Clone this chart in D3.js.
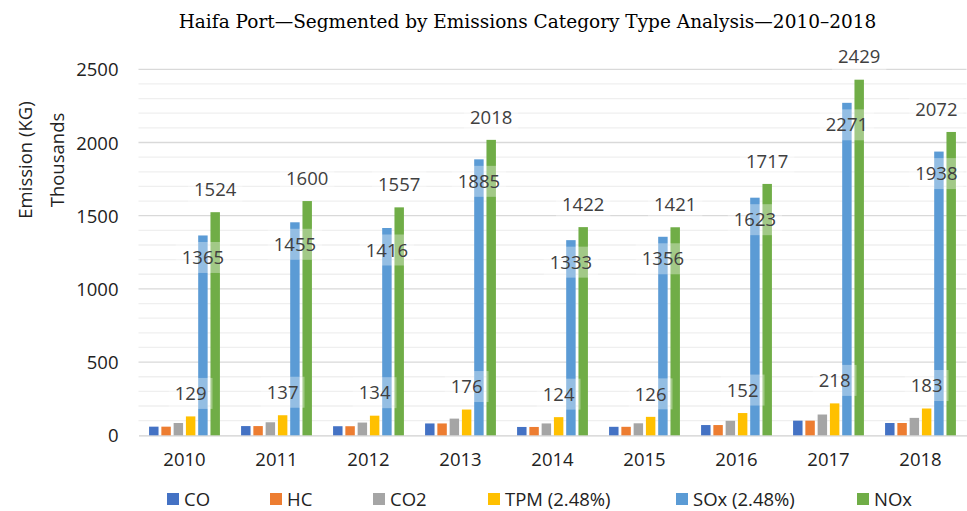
<!DOCTYPE html>
<meta charset="utf-8">
<script src="https://d3js.org/d3.v7.min.js"></script>
<style>
  body { margin: 0; background: #fff; }
  text { font-family: "Open Sans", sans-serif; }
</style>
<div id="chart"></div>
<script>

// data (thousands of kg)
var years = ["2010", "2011", "2012", "2013", "2014", "2015", "2016", "2017", "2018"]
var seriesNames = ["CO", "HC", "CO2", "TPM (2.48%)", "SOx (2.48%)", "NOx"]
var co   = [59, 63, 62, 81, 57, 58, 70, 100, 84]
var hc   = [59, 63, 62, 81, 57, 58, 70, 100, 84]
var co2  = [84, 89, 87, 114, 81, 82, 99, 142, 119]
var tpm  = [129, 137, 134, 176, 124, 126, 152, 218, 183]
var sox  = [1365, 1455, 1416, 1885, 1333, 1356, 1623, 2271, 1938]
var nox  = [1524, 1600, 1557, 2018, 1422, 1421, 1717, 2429, 2072]
var yTicks = [0, 500, 1000, 1500, 2000, 2500]

var colors = ["#4472C4", "#ED7D31", "#A5A5A5", "#FFC000", "#5B9BD5", "#70AD47"]
var allSeries = [co, hc, co2, tpm, sox, nox]

var W = 967, H = 511
var margin = {top: 69.3, right: 0.5, bottom: 75.7, left: 138.5}
var width = W - margin.left - margin.right,
    height = H - margin.top - margin.bottom

var svg = d3.select("#chart").append("svg")
    .attr("width", W)
    .attr("height", H)

var g = svg.append("g")
    .attr("transform", "translate(" + margin.left + "," + margin.top + ")")

// scales
var x0 = d3.scaleBand()
    .domain(years)
    .range([0, width])
    .paddingInner(0.23)
    .paddingOuter(0.115)

var x1 = d3.scaleBand()
    .domain(d3.range(seriesNames.length))
    .range([0, x0.bandwidth()])
    .paddingInner(0.23)

var y = d3.scaleLinear()
    .domain([0, 2500])
    .range([height, 0])

// minor + major gridlines
g.append("g").selectAll("line")
    .data(d3.range(100, 2501, 100).filter(function(v) { return v % 500 != 0 }))
    .enter().append("line")
    .attr("x1", 0).attr("x2", width)
    .attr("y1", function(d) { return y(d) }).attr("y2", function(d) { return y(d) })
    .attr("stroke", "#efefef").attr("stroke-width", 1.3)

g.append("g").selectAll("line")
    .data(yTicks.slice(1))
    .enter().append("line")
    .attr("x1", 0).attr("x2", width)
    .attr("y1", function(d) { return y(d) }).attr("y2", function(d) { return y(d) })
    .attr("stroke", "#d9d9d9").attr("stroke-width", 1.3)

// y axis
var yAxis = g.append("g")
    .call(d3.axisLeft(y).tickValues(yTicks).tickFormat(d3.format("d")).tickSize(0).tickPadding(20))
yAxis.select(".domain").remove()
yAxis.selectAll("text")
    .style("font-family", "'Open Sans', sans-serif")
    .style("font-size", "18.5px")
    .attr("fill", "#222")
    .attr("dy", "0.36em")

// x axis
var xAxis = g.append("g")
    .attr("transform", "translate(0," + height + ")")
    .call(d3.axisBottom(x0).tickSize(0).tickPadding(18))
xAxis.select(".domain").attr("stroke", "#d0d0d0").attr("stroke-width", 1.3)
xAxis.selectAll("text")
    .style("font-family", "'Open Sans', sans-serif")
    .style("font-size", "18.5px")
    .attr("fill", "#222")

// bars
var rows = years.map(function(yr, i) {
  return allSeries.map(function(s, k) { return {year: yr, k: k, v: s[i]} })
})

var groups = g.append("g").selectAll("g")
    .data(rows)
    .enter().append("g")
    .attr("transform", function(d, i) { return "translate(" + x0(years[i]) + ",0)" })

groups.selectAll("rect")
    .data(function(d) { return d })
    .enter().append("rect")
    .attr("x", function(d) { return x1(d.k) })
    .attr("y", function(d) { return y(d.v) })
    .attr("width", x1.bandwidth())
    .attr("height", function(d) { return height - y(d.v) })
    .attr("fill", function(d) { return colors[d.k] })

// data labels (TPM outside end, SOx inside end, NOx outside end)
var labelSpecs = [
  {k: 3, data: tpm, off: -23},
  {k: 4, data: sox, off: 22},
  {k: 5, data: nox, off: -23}
]
var labelLayer = g.append("g")
labelSpecs.forEach(function(spec) {
  spec.data.forEach(function(v, i) {
    var cx = x0(years[i]) + x1(spec.k) + x1.bandwidth() / 2
    var cy = y(v) + spec.off
    var t = labelLayer.append("text")
        .attr("y", cy)
        .attr("dy", "0.36em")
        .attr("text-anchor", "middle")
        .style("font-size", "18.5px")
        .attr("fill", "#404040")
        .text(v)
    var w = t.node().getComputedTextLength() + 12
    // keep the label box inside the plot, like the spreadsheet does
    cx = Math.min(cx, width - 3 - w / 2)
    t.attr("x", cx)
    labelLayer.insert("rect", "text")
        .attr("x", cx - w / 2)
        .attr("y", cy - 15.5)
        .attr("width", w)
        .attr("height", 31)
        .attr("fill", "#fff")
        .attr("fill-opacity", 0.35)
  })
})

// title
svg.append("text")
    .attr("x", 527.5)
    .attr("y", 28)
    .attr("text-anchor", "middle")
    .style("font-family", "'DejaVu Serif', serif")
    .style("font-size", "18.5px")
    .attr("fill", "#000")
    .text("Haifa Port\u2014Segmented by Emissions Category Type Analysis\u20142010\u20132018")

// y axis title
svg.append("text")
    .attr("transform", "translate(25,160) rotate(-90)")
    .attr("text-anchor", "middle")
    .attr("dy", "0.36em")
    .style("font-size", "18.5px")
    .attr("fill", "#222")
    .text("Emission (KG)")
svg.append("text")
    .attr("transform", "translate(57,160) rotate(-90)")
    .attr("text-anchor", "middle")
    .attr("dy", "0.36em")
    .style("font-size", "18.5px")
    .attr("fill", "#222")
    .text("Thousands")

// legend
var legendX = [167, 270, 373, 488, 676, 857]
var legend = svg.append("g").selectAll("g")
    .data(seriesNames)
    .enter().append("g")
    .attr("transform", function(d, i) { return "translate(" + legendX[i] + ",493)" })
legend.append("rect")
    .attr("width", 12).attr("height", 12)
    .attr("fill", function(d, i) { return colors[i] })
legend.append("text")
    .attr("x", 17)
    .attr("y", 6)
    .attr("dy", "0.36em")
    .style("font-size", "18.5px")
    .attr("fill", "#222")
    .text(function(d) { return d })

</script>
